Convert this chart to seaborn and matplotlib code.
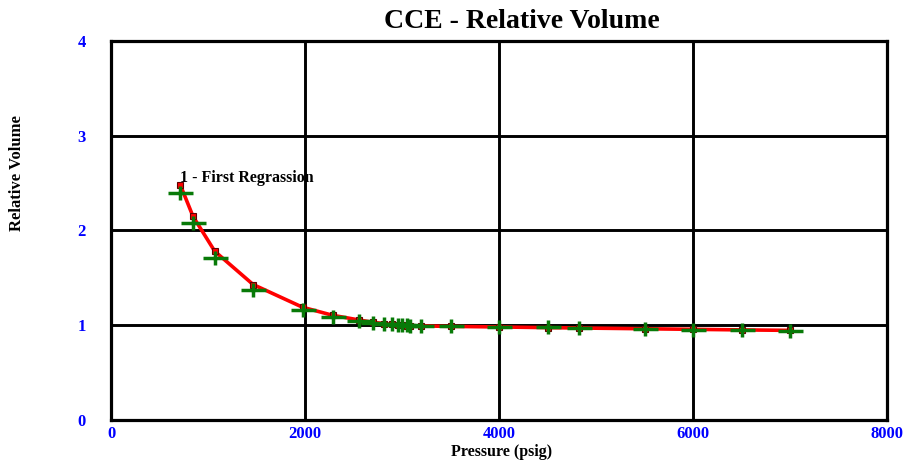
import numpy as np
import pandas as pd
import matplotlib
matplotlib.use("Agg")
import matplotlib.pyplot as plt
from matplotlib.path import Path
import seaborn as sns

# ---- data ----
pressure = [715, 845, 1070, 1465, 1975, 2285, 2560, 2705, 2815, 2895, 2960, 3000,
            3055, 3080, 3200, 3500, 4000, 4500, 4825, 5500, 6000, 6500, 7000]
rel_vol_observed = [2.40, 2.08, 1.71, 1.37, 1.16, 1.09, 1.048, 1.025, 1.015, 1.008,
                    1.004, 1.000, 0.998, 0.997, 0.995, 0.990, 0.985, 0.977, 0.972,
                    0.962, 0.955, 0.948, 0.942]
rel_vol_calculated = [2.48, 2.15, 1.78, 1.43, 1.19, 1.105, 1.055, 1.03, 1.018, 1.010,
                      1.005, 1.000, 0.997, 0.996, 0.993, 0.988, 0.982, 0.975, 0.971,
                      0.963, 0.957, 0.951, 0.946]
x_ticks = [0, 2000, 4000, 6000, 8000]
y_ticks = [0, 1, 2, 3, 4]
title = "CCE - Relative Volume"
x_label = "Pressure (psig)"
y_label = "Relative Volume"
annotation = "1 - First Regrassion"

df = pd.DataFrame({"pressure": pressure, "observed": rel_vol_observed,
                   "calculated": rel_vol_calculated})

sns.set_theme(style="white")
plt.rcParams["font.family"] = ["Liberation Serif", "DejaVu Serif"]
plt.rcParams["font.weight"] = "bold"
plt.rcParams["text.color"] = "black"

fig = plt.figure(figsize=(9.11, 4.65), dpi=100)
ax = fig.add_axes([111 / 911, 1 - 420 / 465, 776 / 911, 379 / 465])

# calculated curve: red line with small square markers
sns.lineplot(data=df, x="pressure", y="calculated", ax=ax, color="#FF0000",
             linewidth=2.6, marker="s", markersize=4, markerfacecolor="#FF0000",
             markeredgecolor="#600000", markeredgewidth=0.8, sort=True,
             estimator=None, zorder=3)

# observed: wide green plus markers
plus = Path([(-1, 0), (1, 0), (0, -0.55), (0, 0.55)],
            [Path.MOVETO, Path.LINETO, Path.MOVETO, Path.LINETO])
sns.lineplot(data=df, x="pressure", y="observed", ax=ax, linestyle="none",
             marker=plus, markersize=18, markerfacecolor="none",
             markeredgecolor="#087A08", markeredgewidth=2.5, estimator=None,
             zorder=4)

ax.set_xlim(0, 8000)
ax.set_ylim(0, 4)
ax.set_xticks(x_ticks)
ax.set_yticks(y_ticks)
ax.set_xticklabels([str(v) for v in x_ticks], color="#0000FF",
                   fontweight="bold", fontsize=12)
ax.set_yticklabels([str(v) for v in y_ticks], color="#0000FF",
                   fontweight="bold", fontsize=12)
ax.tick_params(axis="both", length=0)
ax.tick_params(axis="x", pad=4)
ax.tick_params(axis="y", pad=18)
ax.grid(True, color="black", linewidth=2.1)
ax.set_axisbelow(True)
for s in ax.spines.values():
    s.set_color("black")
    s.set_linewidth(2.3)
ax.set_xlabel("")
ax.set_ylabel("")

fig.text(522 / 911, 1 - 21 / 465, title, ha="center", va="center",
         fontsize=20, fontweight="bold")
fig.text(502 / 911, 1 - 452 / 465, x_label, ha="center", va="center",
         fontsize=11.5, fontweight="bold")
fig.text(17 / 911, 1 - 173 / 465, y_label, ha="center", va="center",
         rotation=90, fontsize=12, fontweight="bold")
ax.text(pressure[0], rel_vol_calculated[0] - 0.01, annotation, ha="left",
        va="bottom", fontsize=11.5, fontweight="bold", zorder=5)

fig.savefig("out.png", dpi=100)
